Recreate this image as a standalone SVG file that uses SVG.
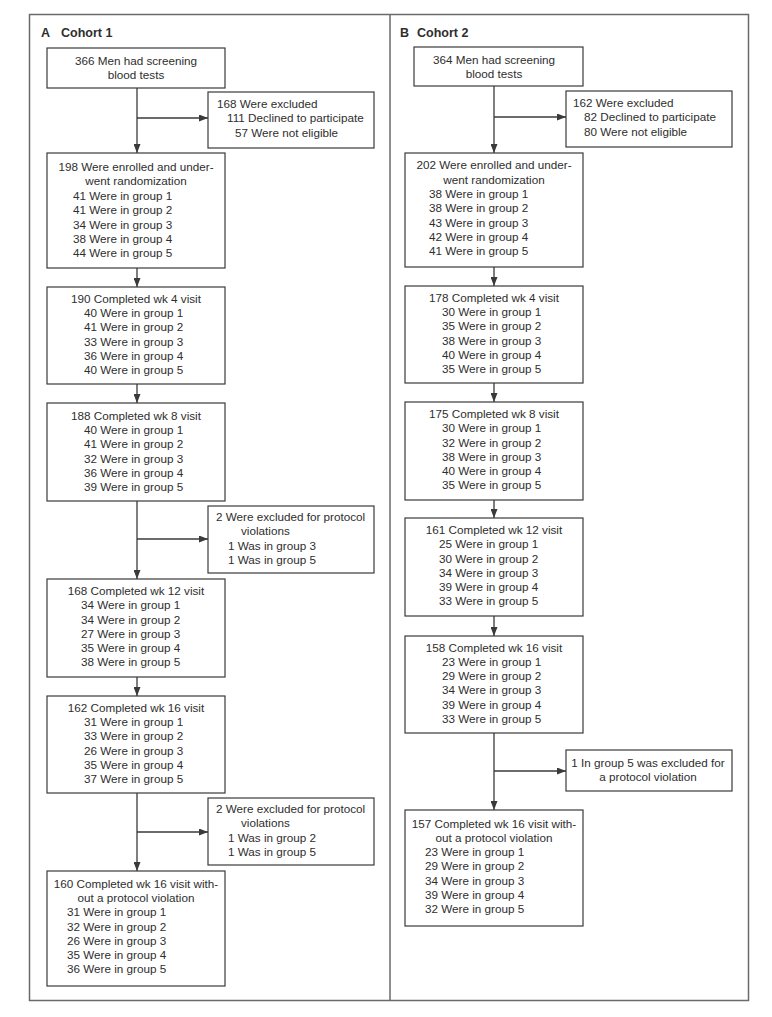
<svg xmlns="http://www.w3.org/2000/svg" width="772" height="1017" viewBox="0 0 772 1017">
<style>
.box{fill:#fff;stroke:#3a3a3a;stroke-width:1.2}
text{font-family:"Liberation Sans",Arial,sans-serif;font-size:11.7px;fill:#2e2e2e}
.c{text-anchor:middle}
.h{font-weight:bold;font-size:12.5px}
.conn path{fill:none;stroke:#3a3a3a;stroke-width:1.3}
.frame{fill:none;stroke:#6a6a6a;stroke-width:1.5}
</style>
<defs>
<marker id="ah" markerUnits="userSpaceOnUse" markerWidth="9" markerHeight="7" refX="9" refY="3.5" orient="auto">
<path d="M0,0 L9,3.5 L0,7 z" fill="#3a3a3a"/>
</marker>
</defs>
<rect width="772" height="1017" fill="#fff"/>
<g id="frame">
<rect class="frame" x="29.5" y="14.5" width="719" height="986"/>
<line class="frame" x1="390" y1="14.5" x2="390" y2="1000.5"/>
</g>
<g id="titleA"><text class="h" x="41" y="37">A</text><text class="h" x="61" y="37">Cohort 1</text></g>
<g id="titleB"><text class="h" x="400" y="37">B</text><text class="h" x="417" y="37">Cohort 2</text></g>

<g class="conn" id="connectors">
<path d="M137,88 V153" marker-end="url(#ah)"/>
<path d="M137,118 H208" marker-end="url(#ah)"/>
<path d="M137,268 V287" marker-end="url(#ah)"/>
<path d="M137,384 V403" marker-end="url(#ah)"/>
<path d="M137,501 V579" marker-end="url(#ah)"/>
<path d="M137,539 H208" marker-end="url(#ah)"/>
<path d="M137,677 V696" marker-end="url(#ah)"/>
<path d="M137,793 V871" marker-end="url(#ah)"/>
<path d="M137,832 H208" marker-end="url(#ah)"/>

<path d="M494,86 V153" marker-end="url(#ah)"/>
<path d="M494,117 H566" marker-end="url(#ah)"/>
<path d="M494,267 V286" marker-end="url(#ah)"/>
<path d="M494,383 V402" marker-end="url(#ah)"/>
<path d="M494,500 V518" marker-end="url(#ah)"/>
<path d="M494,616 V636" marker-end="url(#ah)"/>
<path d="M494,733 V810" marker-end="url(#ah)"/>
<path d="M494,771 H566" marker-end="url(#ah)"/>
</g>

<!-- Cohort 1 -->
<g id="a1">
<rect class="box" x="47" y="48" width="178" height="40"/>
<text class="c" x="136" y="65">366 Men had screening</text>
<text class="c" x="136" y="79">blood tests</text>
</g>
<g id="a1x">
<rect class="box" x="208" y="92" width="166" height="56"/>
<text x="217" y="108">168 Were excluded</text>
<text x="227" y="122">111 Declined to participate</text>
<text x="235" y="137">57 Were not eligible</text>
</g>
<g id="a2">
<rect class="box" x="47" y="153" width="178" height="115"/>
<text class="c" x="136" y="171">198 Were enrolled and under-</text>
<text class="c" x="136" y="185">went randomization</text>
<text x="73" y="200">41 Were in group 1</text>
<text x="73" y="214">41 Were in group 2</text>
<text x="73" y="229">34 Were in group 3</text>
<text x="73" y="243">38 Were in group 4</text>
<text x="73" y="257">44 Were in group 5</text>
</g>
<g id="a3">
<rect class="box" x="47" y="287" width="178" height="97"/>
<text class="c" x="136" y="303">190 Completed wk 4 visit</text>
<text x="84" y="317">40 Were in group 1</text>
<text x="84" y="331">41 Were in group 2</text>
<text x="84" y="346">33 Were in group 3</text>
<text x="84" y="360">36 Were in group 4</text>
<text x="84" y="374">40 Were in group 5</text>
</g>
<g id="a4">
<rect class="box" x="47" y="403" width="178" height="98"/>
<text class="c" x="136" y="420">188 Completed wk 8 visit</text>
<text x="84" y="434">40 Were in group 1</text>
<text x="84" y="448">41 Were in group 2</text>
<text x="84" y="463">32 Were in group 3</text>
<text x="84" y="477">36 Were in group 4</text>
<text x="84" y="491">39 Were in group 5</text>
</g>
<g id="a4x">
<rect class="box" x="208" y="506" width="166" height="67"/>
<text x="216" y="521">2 Were excluded for protocol</text>
<text x="241" y="535">violations</text>
<text x="228" y="550">1 Was in group 3</text>
<text x="228" y="564">1 Was in group 5</text>
</g>
<g id="a5">
<rect class="box" x="47" y="579" width="178" height="98"/>
<text class="c" x="136" y="595">168 Completed wk 12 visit</text>
<text x="81" y="609">34 Were in group 1</text>
<text x="81" y="624">34 Were in group 2</text>
<text x="81" y="638">27 Were in group 3</text>
<text x="81" y="652">35 Were in group 4</text>
<text x="81" y="666">38 Were in group 5</text>
</g>
<g id="a6">
<rect class="box" x="47" y="696" width="178" height="97"/>
<text class="c" x="136" y="712">162 Completed wk 16 visit</text>
<text x="84" y="726">31 Were in group 1</text>
<text x="84" y="740">33 Were in group 2</text>
<text x="84" y="755">26 Were in group 3</text>
<text x="84" y="769">35 Were in group 4</text>
<text x="84" y="783">37 Were in group 5</text>
</g>
<g id="a6x">
<rect class="box" x="208" y="798" width="166" height="67"/>
<text x="216" y="813">2 Were excluded for protocol</text>
<text x="241" y="827">violations</text>
<text x="228" y="842">1 Was in group 2</text>
<text x="228" y="856">1 Was in group 5</text>
</g>
<g id="a7">
<rect class="box" x="47" y="871" width="178" height="115"/>
<text class="c" x="136" y="888">160 Completed wk 16 visit with-</text>
<text class="c" x="136" y="902">out a protocol violation</text>
<text x="67" y="916">31 Were in group 1</text>
<text x="67" y="931">32 Were in group 2</text>
<text x="67" y="945">26 Were in group 3</text>
<text x="67" y="959">35 Were in group 4</text>
<text x="67" y="973">36 Were in group 5</text>
</g>

<!-- Cohort 2 -->
<g id="b1">
<rect class="box" x="414" y="47" width="169" height="39"/>
<text class="c" x="494" y="64">364 Men had screening</text>
<text class="c" x="494" y="78">blood tests</text>
</g>
<g id="b1x">
<rect class="box" x="566" y="91" width="166" height="56"/>
<text x="573" y="107">162 Were excluded</text>
<text x="584" y="121">82 Declined to participate</text>
<text x="584" y="136">80 Were not eligible</text>
</g>
<g id="b2">
<rect class="box" x="405" y="153" width="178" height="114"/>
<text class="c" x="494" y="169">202 Were enrolled and under-</text>
<text class="c" x="494" y="184">went randomization</text>
<text x="429" y="198">38 Were in group 1</text>
<text x="429" y="212">38 Were in group 2</text>
<text x="429" y="227">43 Were in group 3</text>
<text x="429" y="241">42 Were in group 4</text>
<text x="429" y="255">41 Were in group 5</text>
</g>
<g id="b3">
<rect class="box" x="405" y="286" width="178" height="97"/>
<text class="c" x="494" y="302">178 Completed wk 4 visit</text>
<text x="442" y="316">30 Were in group 1</text>
<text x="442" y="330">35 Were in group 2</text>
<text x="442" y="345">38 Were in group 3</text>
<text x="442" y="359">40 Were in group 4</text>
<text x="442" y="373">35 Were in group 5</text>
</g>
<g id="b4">
<rect class="box" x="405" y="402" width="178" height="98"/>
<text class="c" x="494" y="418">175 Completed wk 8 visit</text>
<text x="442" y="432">30 Were in group 1</text>
<text x="442" y="447">32 Were in group 2</text>
<text x="442" y="461">38 Were in group 3</text>
<text x="442" y="475">40 Were in group 4</text>
<text x="442" y="489">35 Were in group 5</text>
</g>
<g id="b5">
<rect class="box" x="405" y="518" width="178" height="98"/>
<text class="c" x="494" y="534">161 Completed wk 12 visit</text>
<text x="439" y="548">25 Were in group 1</text>
<text x="439" y="563">30 Were in group 2</text>
<text x="439" y="577">34 Were in group 3</text>
<text x="439" y="591">39 Were in group 4</text>
<text x="439" y="605">33 Were in group 5</text>
</g>
<g id="b6">
<rect class="box" x="405" y="636" width="178" height="97"/>
<text class="c" x="494" y="652">158 Completed wk 16 visit</text>
<text x="442" y="666">23 Were in group 1</text>
<text x="442" y="680">29 Were in group 2</text>
<text x="442" y="694">34 Were in group 3</text>
<text x="442" y="709">39 Were in group 4</text>
<text x="442" y="723">33 Were in group 5</text>
</g>
<g id="b6x">
<rect class="box" x="566" y="750" width="166" height="41"/>
<text class="c" x="648" y="767">1 In group 5 was excluded for</text>
<text class="c" x="648" y="781">a protocol violation</text>
</g>
<g id="b7">
<rect class="box" x="405" y="810" width="178" height="116"/>
<text class="c" x="494" y="828">157 Completed wk 16 visit with-</text>
<text class="c" x="494" y="842">out a protocol violation</text>
<text x="425" y="856">23 Were in group 1</text>
<text x="425" y="870">29 Were in group 2</text>
<text x="425" y="885">34 Were in group 3</text>
<text x="425" y="899">39 Were in group 4</text>
<text x="425" y="913">32 Were in group 5</text>
</g>
</svg>
